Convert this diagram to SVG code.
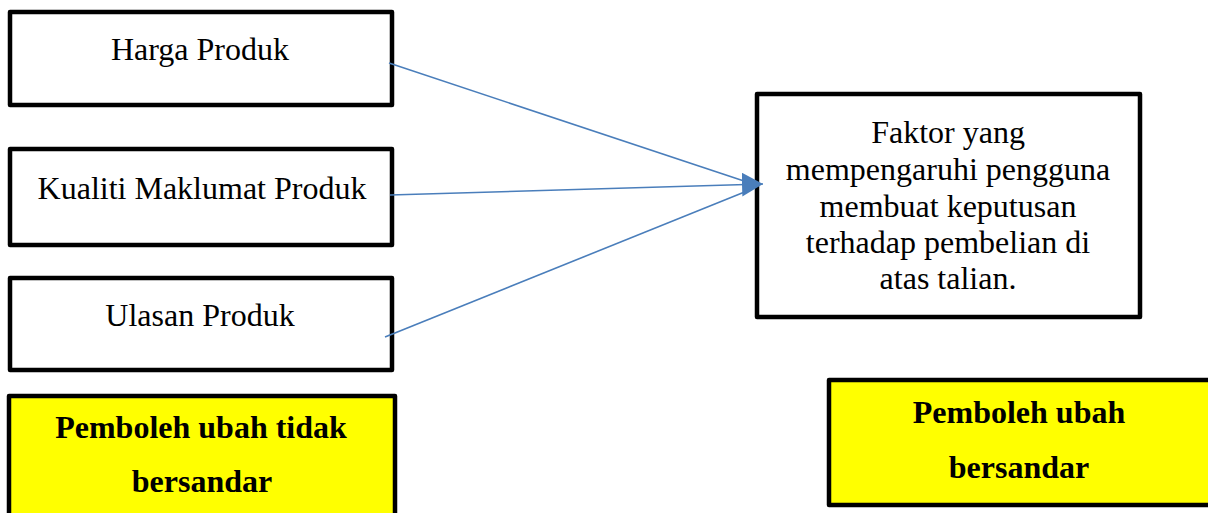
<svg xmlns="http://www.w3.org/2000/svg" width="1208" height="513" viewBox="0 0 1208 513">
  <style>
    .box { fill: #ffffff; stroke: #000000; stroke-width: 4.5; stroke-linejoin: round; }
    .var { fill: #ffff00; stroke: #000000; stroke-width: 4.5; stroke-linejoin: round; }
    .label { fill: #000000; stroke: none; font-family: "Liberation Serif", "Times New Roman", serif; font-size: 32px; text-anchor: middle; }
    .bold { font-weight: bold; }
    .link { fill: none; stroke: #4a7ebb; stroke-width: 1.6; }
  </style>
  <defs>
    <marker id="head" viewBox="0 0 10 10" refX="10" refY="5" markerWidth="21" markerHeight="24" markerUnits="userSpaceOnUse" orient="auto" preserveAspectRatio="none">
      <path d="M0,0 L10,5 L0,10 Z" fill="#4a7ebb"/>
    </marker>
  </defs>

  <rect width="1208" height="513" fill="#ffffff"/>

  <!-- independent factors -->
  <g id="harga-produk">
    <rect class="box" x="10" y="12" width="382" height="93"/>
    <text class="label" x="200" y="60">Harga Produk</text>
  </g>
  <g id="kualiti-maklumat">
    <rect class="box" x="10" y="149" width="382" height="96"/>
    <text class="label" x="202" y="199">Kualiti Maklumat Produk</text>
  </g>
  <g id="ulasan-produk">
    <rect class="box" x="10" y="278" width="382" height="92"/>
    <text class="label" x="200" y="326">Ulasan Produk</text>
  </g>

  <!-- outcome -->
  <g id="faktor">
    <rect class="box" x="757" y="94" width="383" height="223"/>
    <text class="label" x="948" y="143">Faktor yang</text>
    <text class="label" x="948" y="180">mempengaruhi pengguna</text>
    <text class="label" x="948" y="217">membuat keputusan</text>
    <text class="label" x="948" y="253">terhadap pembelian di</text>
    <text class="label" x="948" y="289">atas talian.</text>
  </g>

  <!-- variable type labels -->
  <g id="pemboleh-ubah-tidak-bersandar">
    <rect class="var" x="9" y="396" width="386" height="130"/>
    <text class="label bold" x="201" y="438">Pemboleh ubah tidak</text>
    <text class="label bold" x="202" y="492">bersandar</text>
  </g>
  <g id="pemboleh-ubah-bersandar">
    <rect class="var" x="829" y="380" width="384" height="125"/>
    <text class="label bold" x="1019" y="423">Pemboleh ubah</text>
    <text class="label bold" x="1019" y="478">bersandar</text>
  </g>

  <!-- connectors -->
  <g id="connectors">
    <line class="link" x1="389" y1="63" x2="750" y2="183"/>
    <line class="link" x1="390" y1="195" x2="763" y2="184" marker-end="url(#head)"/>
    <line class="link" x1="385" y1="337" x2="752" y2="189"/>
  </g>
</svg>
